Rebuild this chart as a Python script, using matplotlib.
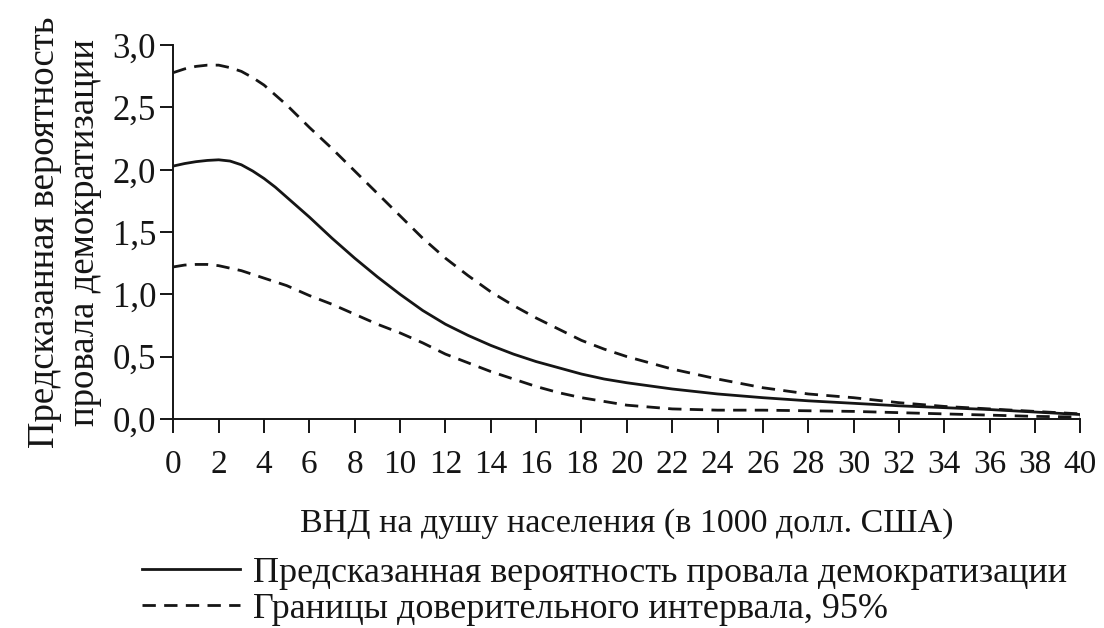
import matplotlib
matplotlib.use("Agg")
import matplotlib.pyplot as plt

plt.rcParams['font.family'] = ['Liberation Serif', 'DejaVu Serif']

# GNI per capita, thousand USD
gni = [0, 0.5, 1, 1.5, 2, 2.5, 3, 3.5, 4, 4.5, 5, 5.5, 6,
       7, 8, 9, 10, 11, 12, 13, 14, 15, 16, 17, 18, 19, 20,
       22, 24, 26, 28, 30, 32, 34, 36, 38, 40]

predicted = [2.03, 2.05, 2.065, 2.075, 2.08, 2.07, 2.04, 1.99, 1.93, 1.86, 1.78, 1.70, 1.62,
             1.45, 1.29, 1.14, 1.00, 0.87, 0.76, 0.67, 0.59, 0.52, 0.46, 0.41, 0.36, 0.32, 0.29,
             0.24, 0.20, 0.17, 0.145, 0.125, 0.105, 0.09, 0.075, 0.055, 0.035]

upper = [2.78, 2.81, 2.83, 2.84, 2.84, 2.82, 2.79, 2.74, 2.68, 2.60, 2.52, 2.43, 2.34,
         2.17, 1.99, 1.81, 1.63, 1.45, 1.29, 1.15, 1.02, 0.91, 0.81, 0.72, 0.63, 0.56, 0.50,
         0.40, 0.32, 0.25, 0.20, 0.17, 0.13, 0.10, 0.08, 0.06, 0.04]

lower = [1.22, 1.235, 1.24, 1.24, 1.23, 1.21, 1.19, 1.16, 1.13, 1.10, 1.07, 1.03, 0.99,
         0.92, 0.84, 0.76, 0.69, 0.61, 0.52, 0.45, 0.38, 0.32, 0.26, 0.21, 0.17, 0.14, 0.11,
         0.08, 0.07, 0.07, 0.065, 0.06, 0.05, 0.04, 0.03, 0.02, 0.015]

x_ticks = list(range(0, 41, 2))
y_ticks = [0.0, 0.5, 1.0, 1.5, 2.0, 2.5, 3.0]
y_tick_labels = ['0,0', '0,5', '1,0', '1,5', '2,0', '2,5', '3,0']

ink = '#151515'
dash = (0, (4.8, 3.0))

fig = plt.figure(figsize=(11.04, 6.28), dpi=100)
ax = fig.add_axes([0.157, 0.333, 0.8216, 0.595])

line_pred, = ax.plot(gni, predicted, color=ink, lw=2.0,
                     label='Предсказанная вероятность провала демократизации')
line_up, = ax.plot(gni, upper, color=ink, lw=2.0, linestyle=dash,
                   label='Границы доверительного интервала, 95%')
ax.plot(gni, lower, color=ink, lw=2.0, linestyle=dash)

ax.set_xlim(0, 40)
ax.set_ylim(0, 3)
ax.set_xticks(x_ticks)
ax.set_yticks(y_ticks)
ax.set_yticklabels(y_tick_labels)

for side in ['top', 'right']:
    ax.spines[side].set_visible(False)
for side in ['left', 'bottom']:
    ax.spines[side].set_linewidth(1.4)
    ax.spines[side].set_color(ink)

ax.tick_params(axis='x', direction='out', length=10, width=1.4, color=ink,
               pad=12, labelsize=24, labelcolor=ink)
ax.tick_params(axis='y', direction='out', length=9.4, width=1.4, color=ink,
               pad=3, labelsize=25, labelcolor=ink)

ax.set_xlabel('ВНД на душу населения (в 1000 долл. США)', fontsize=24.5, color=ink)
ax.xaxis.set_label_coords(0.5, -0.24)

ax.set_ylabel('Предсказанная вероятность\nпровала демократизации',
              fontsize=26.5, color=ink, linespacing=1.2, multialignment='center')
ax.yaxis.set_label_coords(-0.079, 0.5)

fig.legend(handles=[line_pred, line_up], loc='lower left',
           bbox_to_anchor=(142 / 1104, 0.003), frameon=False,
           fontsize=26, handlelength=2.71, handletextpad=0.36,
           labelspacing=0.08, borderpad=0, borderaxespad=0, labelcolor=ink)

fig.savefig('out.png', dpi=100, facecolor='white')
